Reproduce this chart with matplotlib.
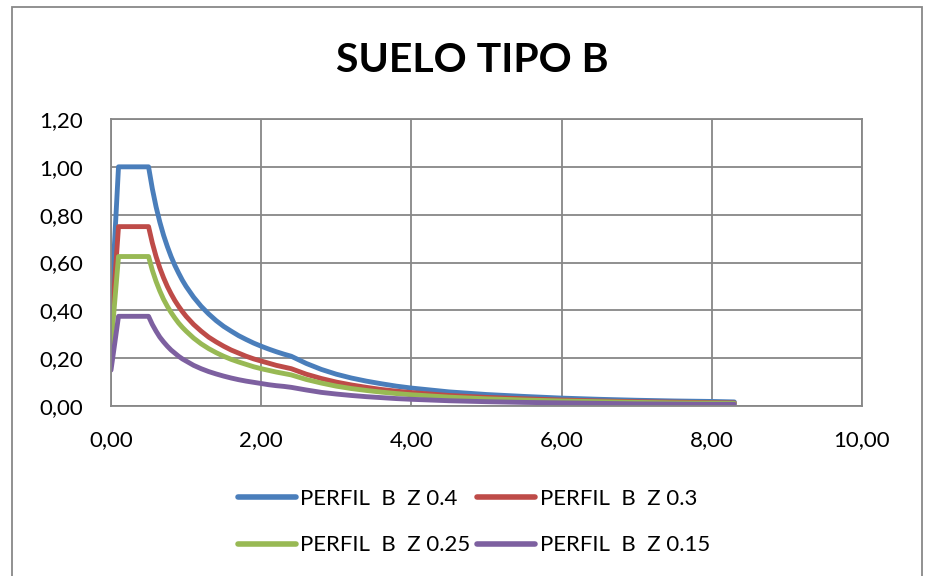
import matplotlib.pyplot as plt
from matplotlib.patches import Rectangle

# periodo T (s) y aceleracion espectral Sa (g)
periodo = [0.00, 0.10, 0.50,
           0.55, 0.60, 0.65, 0.70, 0.75, 0.80, 0.85, 0.90, 0.95, 1.00,
           1.10, 1.20, 1.30, 1.40, 1.50, 1.60, 1.70, 1.80, 1.90, 2.00, 2.10,
           2.20, 2.30, 2.40,
           2.60, 2.80, 3.00, 3.20, 3.40, 3.60, 3.80, 4.00,
           4.50, 5.00, 5.50, 6.00, 6.50, 7.00, 7.50, 8.00, 8.30]

sa_z040 = [0.40, 1.00, 1.00,
           0.909, 0.833, 0.769, 0.714, 0.667, 0.625, 0.588, 0.556, 0.526, 0.500,
           0.455, 0.417, 0.385, 0.357, 0.333, 0.313, 0.294, 0.278, 0.263, 0.250,
           0.238, 0.227, 0.217, 0.208,
           0.178, 0.153, 0.133, 0.117, 0.104, 0.093, 0.083, 0.075,
           0.059, 0.048, 0.040, 0.033, 0.028, 0.024, 0.021, 0.019, 0.017]
sa_z030 = [0.30, 0.75, 0.75,
           0.682, 0.625, 0.577, 0.536, 0.500, 0.469, 0.441, 0.417, 0.395, 0.375,
           0.341, 0.313, 0.288, 0.268, 0.250, 0.234, 0.221, 0.208, 0.197, 0.188,
           0.179, 0.170, 0.163, 0.156,
           0.133, 0.115, 0.100, 0.088, 0.078, 0.069, 0.062, 0.056,
           0.044, 0.036, 0.030, 0.025, 0.021, 0.018, 0.016, 0.014, 0.013]
sa_z025 = [0.25, 0.625, 0.625,
           0.568, 0.521, 0.481, 0.446, 0.417, 0.391, 0.368, 0.347, 0.329, 0.313,
           0.284, 0.260, 0.240, 0.223, 0.208, 0.195, 0.184, 0.174, 0.164, 0.156,
           0.149, 0.142, 0.136, 0.130,
           0.111, 0.096, 0.083, 0.073, 0.065, 0.058, 0.052, 0.047,
           0.037, 0.030, 0.025, 0.021, 0.018, 0.015, 0.013, 0.012, 0.011]
sa_z015 = [0.15, 0.375, 0.375,
           0.341, 0.313, 0.288, 0.268, 0.250, 0.234, 0.221, 0.208, 0.197, 0.188,
           0.170, 0.156, 0.144, 0.134, 0.125, 0.117, 0.110, 0.104, 0.099, 0.094,
           0.089, 0.085, 0.082, 0.078,
           0.067, 0.057, 0.050, 0.044, 0.039, 0.035, 0.031, 0.028,
           0.022, 0.018, 0.015, 0.013, 0.011, 0.009, 0.008, 0.007, 0.007]

series = [
    ("PERFIL  B  Z 0.4", sa_z040, "#4a7ebb"),
    ("PERFIL  B  Z 0.3", sa_z030, "#be4b48"),
    ("PERFIL  B  Z 0.25", sa_z025, "#98b954"),
    ("PERFIL  B  Z 0.15", sa_z015, "#7d60a0"),
]

xticks = [0, 2, 4, 6, 8, 10]
yticks = [0.0, 0.2, 0.4, 0.6, 0.8, 1.0, 1.2]

plt.rcParams['font.family'] = ['Lato', 'DejaVu Sans']

fig = plt.figure(figsize=(9.3, 5.76), dpi=100)
ax = fig.add_axes([111 / 930, 1 - 406 / 576, 751 / 930, 287 / 576])

handles = []
for label, vals, color in series:
    h, = ax.plot(periodo, vals, color=color, linewidth=3.5, label=label,
                 solid_capstyle='round', solid_joinstyle='round')
    handles.append(h)

ax.set_xlim(0, 10)
ax.set_ylim(0, 1.2)
ax.set_xticks(xticks)
ax.set_yticks(yticks)
ax.set_xticklabels([f"{v:.2f}".replace('.', ',') for v in xticks])
ax.set_yticklabels([f"{v:.2f}".replace('.', ',') for v in yticks])
ax.tick_params(labelsize=16, length=0)
ax.tick_params(axis='y', pad=20)
ax.tick_params(axis='x', pad=17)
ax.grid(True, color='#878787', linewidth=1.3)
ax.set_axisbelow(True)
for sp in ax.spines.values():
    sp.set_color('#878787')
    sp.set_linewidth(1.3)

fig.text(472 / 930, 1 - 60 / 576, "SUELO TIPO B", ha='center', va='center',
         fontsize=29.5, fontweight='bold')

# orden por filas como en Excel
order = [0, 2, 1, 3]
leg = fig.legend([handles[i] for i in order], [series[i][0] for i in order],
                 loc='center', bbox_to_anchor=(474 / 930, 1 - 522 / 576),
                 ncol=2, frameon=False, fontsize=16, handlelength=2.6,
                 handletextpad=0.2, columnspacing=0.3, labelspacing=1.2)
for line in leg.get_lines():
    line.set_linewidth(4)

fig.add_artist(Rectangle((12 / 930, -0.05), 910 / 930, 1.05 - 7 / 576,
                         transform=fig.transFigure, fill=False,
                         edgecolor='#888888', linewidth=1.3))

fig.savefig("out.png", dpi=100)
